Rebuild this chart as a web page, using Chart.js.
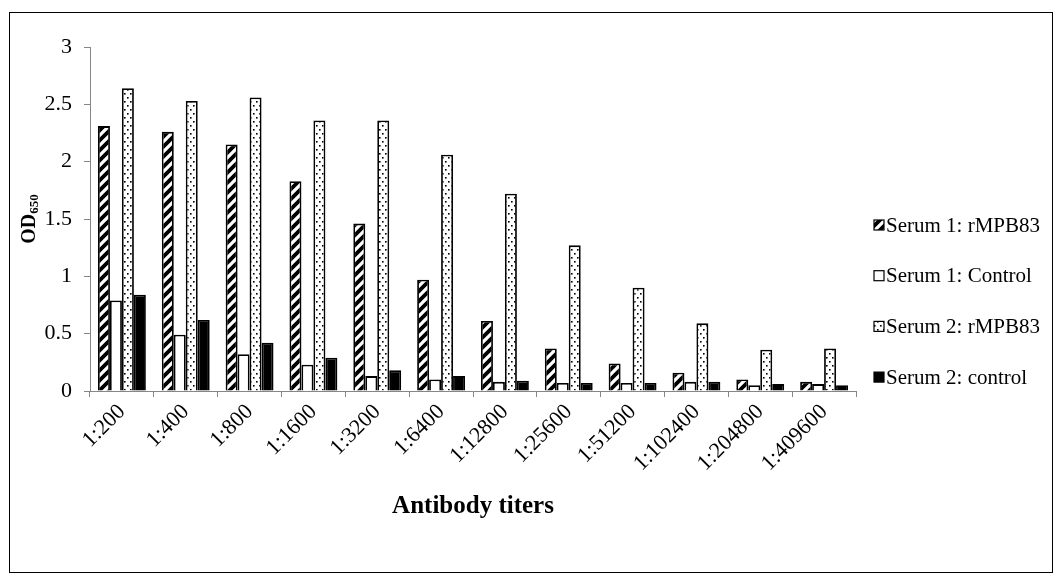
<!DOCTYPE html>
<html>
<head>
<meta charset="utf-8">
<script src="https://cdn.jsdelivr.net/npm/chart.js@4.4.0/dist/chart.umd.min.js"></script>
<style>
  html, body { margin: 0; padding: 0; background: #fff; }
  #wrap { position: relative; width: 1062px; height: 583px; }
</style>
</head>
<body>
<div id="wrap"><canvas id="chart1"></canvas></div>
<script>
// data
var titers = ['1:200', '1:400', '1:800', '1:1600', '1:3200', '1:6400', '1:12800', '1:25600', '1:51200', '1:102400', '1:204800', '1:409600'];
var serum1Rmpb83 = [2.31, 2.26, 2.15, 1.83, 1.46, 0.97, 0.61, 0.37, 0.24, 0.16, 0.10, 0.08];
var serum1Control = [0.79, 0.49, 0.32, 0.23, 0.13, 0.10, 0.08, 0.07, 0.07, 0.08, 0.05, 0.06];
var serum2Rmpb83 = [2.64, 2.53, 2.56, 2.36, 2.36, 2.06, 1.72, 1.27, 0.90, 0.59, 0.36, 0.37];
var serum2Control = [0.84, 0.62, 0.42, 0.29, 0.18, 0.13, 0.09, 0.07, 0.07, 0.08, 0.06, 0.05];
var seriesLabels = ['Serum 1: rMPB83', 'Serum 1: Control', 'Serum 2: rMPB83', 'Serum 2: control'];
var yMin = 0, yMax = 3, yStep = 0.5;

var FONT = "'Liberation Serif', 'Times New Roman', serif";

// fill patterns
function hatchPattern() {
    var c = document.createElement('canvas');
    c.width = 10; c.height = 10;
    var g = c.getContext('2d');
    g.fillStyle = '#fff';
    g.fillRect(0, 0, 10, 10);
    g.strokeStyle = '#000';
    g.lineWidth = 3.8;
    g.beginPath();
    g.moveTo(-5, 5); g.lineTo(5, -5);
    g.moveTo(0, 10); g.lineTo(10, 0);
    g.moveTo(5, 15); g.lineTo(15, 5);
    g.stroke();
    return g.createPattern(c, 'repeat');
}

function dotPattern() {
    var c = document.createElement('canvas');
    c.width = 6; c.height = 8;
    var g = c.getContext('2d');
    g.fillStyle = '#fff';
    g.fillRect(0, 0, 6, 8);
    g.fillStyle = '#000';
    g.fillRect(1, 1, 1.6, 1.6);
    g.fillRect(4, 5, 1.6, 1.6);
    return g.createPattern(c, 'repeat');
}

var hatch = hatchPattern();
var dots = dotPattern();

// outer frame of the figure
var framePlugin = {
    id: 'frame',
    beforeDraw: function(chart) {
        var ctx = chart.ctx;
        ctx.save();
        ctx.fillStyle = '#fff';
        ctx.fillRect(0, 0, chart.width, chart.height);
        ctx.strokeStyle = '#000';
        ctx.lineWidth = 1;
        ctx.strokeRect(9.5, 12.5, 1043, 560);
        ctx.restore();
    }
};

// y title with subscript
var yTitlePlugin = {
    id: 'yTitle',
    afterDraw: function(chart) {
        var ctx = chart.ctx;
        var area = chart.chartArea;
        ctx.save();
        ctx.translate(35, (area.top + area.bottom) / 2);
        ctx.rotate(-Math.PI / 2);
        ctx.fillStyle = '#000';
        ctx.textBaseline = 'alphabetic';
        ctx.font = 'bold 20px ' + FONT;
        var w1 = ctx.measureText('OD').width;
        ctx.font = 'bold 13px ' + FONT;
        var w2 = ctx.measureText('650').width;
        var x0 = -(w1 + w2) / 2;
        ctx.font = 'bold 20px ' + FONT;
        ctx.fillText('OD', x0, 0);
        ctx.font = 'bold 13px ' + FONT;
        ctx.fillText('650', x0 + w1, 3);
        ctx.restore();
    }
};

// legend on the right
var legendPlugin = {
    id: 'sideLegend',
    afterDraw: function(chart) {
        var ctx = chart.ctx;
        var area = chart.chartArea;
        var x = area.right + 18;
        ctx.save();
        ctx.font = '21px ' + FONT;
        ctx.textBaseline = 'middle';
        chart.data.datasets.forEach(function(ds, i) {
            var y = area.top + 178 + i * 50.7;
            ctx.fillStyle = ds.backgroundColor;
            ctx.fillRect(x, y - 5, 10, 10);
            ctx.strokeStyle = '#000';
            ctx.lineWidth = 1.2;
            ctx.strokeRect(x, y - 5, 10, 10);
            ctx.fillStyle = '#000';
            ctx.fillText(ds.label, x + 12, y + 1);
        });
        ctx.restore();
    }
};

var ctx = document.getElementById('chart1').getContext('2d');

var myChart = new Chart(ctx, {
    type: 'bar',
    data: {
        labels: titers,
        datasets: [{
            label: seriesLabels[0],
            data: serum1Rmpb83,
            backgroundColor: hatch,
            borderColor: '#000',
            borderWidth: 1.8
        }, {
            label: seriesLabels[1],
            data: serum1Control,
            backgroundColor: '#fff',
            borderColor: '#000',
            borderWidth: 1.8
        }, {
            label: seriesLabels[2],
            data: serum2Rmpb83,
            backgroundColor: dots,
            borderColor: '#000',
            borderWidth: 1.8
        }, {
            label: seriesLabels[3],
            data: serum2Control,
            backgroundColor: '#000',
            borderColor: '#000',
            borderWidth: 1.8
        }]
    },
    options: {
        responsive: true,
        maintainAspectRatio: false,
        animation: false,
        datasets: {
            bar: {
                categoryPercentage: 0.75,
                barPercentage: 1
            }
        },
        layout: {
            padding: { left: 0, top: 47, right: 206, bottom: 20 }
        },
        plugins: {
            legend: { display: false },
            tooltip: { enabled: false }
        },
        scales: {
            x: {
                afterFit: function(scale) { scale.height = 172; },
                grid: {
                    display: true,
                    drawOnChartArea: false,
                    drawTicks: true,
                    tickLength: 6,
                    color: '#868686',
                    offset: true
                },
                border: { color: '#868686', width: 1 },
                ticks: {
                    color: '#000',
                    font: { family: FONT, size: 22 },
                    minRotation: 45,
                    maxRotation: 45,
                    autoSkip: false,
                    padding: 2
                },
                title: {
                    display: true,
                    text: 'Antibody titers',
                    color: '#000',
                    font: { family: FONT, size: 25, weight: 'bold' },
                    padding: { top: 0, bottom: 41 }
                }
            },
            y: {
                min: yMin,
                max: yMax,
                afterFit: function(scale) { scale.width = 90; },
                grid: {
                    display: true,
                    drawOnChartArea: false,
                    drawTicks: true,
                    tickLength: 6,
                    color: '#868686'
                },
                border: { color: '#868686', width: 1 },
                ticks: {
                    stepSize: yStep,
                    color: '#000',
                    font: { family: FONT, size: 22 },
                    padding: 12,
                    callback: function(value) { return String(+value.toFixed(1)); }
                }
            }
        }
    },
    plugins: [framePlugin, yTitlePlugin, legendPlugin]
});
</script>
</body>
</html>
